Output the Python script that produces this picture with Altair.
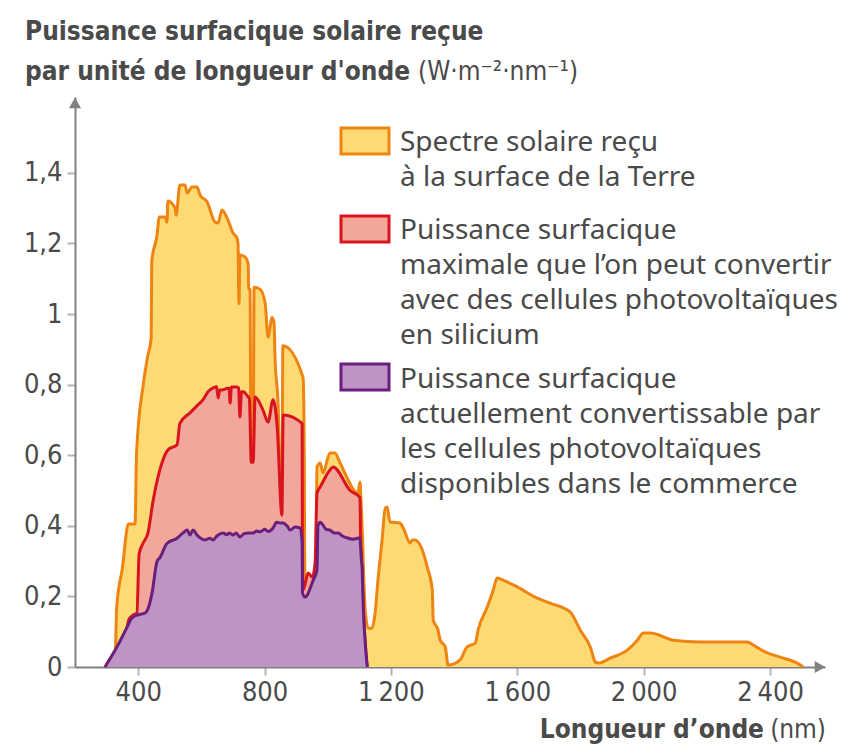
import altair as alt
import pandas as pd

# ---------------- data ----------------
yellow_nm = [320, 327, 332, 350, 369, 390, 395, 416, 430, 441, 443, 459, 467, 485, 491, 494, 517, 520,
             532, 548, 555, 570, 586, 596, 618, 643, 653, 665, 684, 700, 713, 716, 719, 722, 738, 748,
             750, 754, 757, 764, 767, 786, 802, 811, 824, 830, 833, 843, 850, 855, 858, 922, 925, 928,
             950, 963, 966, 976, 985, 1007, 1023, 1039, 1096, 1102, 1105, 1110, 1114, 1118, 1128, 1140,
             1150, 1159, 1172, 1182, 1188, 1197, 1229, 1239, 1261, 1267, 1277, 1299, 1315, 1331, 1334,
             1349, 1356, 1372, 1381, 1419, 1441, 1467, 1476, 1505, 1524, 1536, 1555, 1600, 1663, 1704,
             1767, 1799, 1831, 1847, 1856, 1894, 1948, 1980, 1999, 2021, 2094, 2179, 2284, 2328, 2347,
             2391, 2432, 2486, 2505]
yellow_p = [0.0, 0.02, 0.17, 0.28, 0.405, 0.405, 0.61, 0.80, 0.88, 0.93, 1.15, 1.22, 1.275, 1.275, 1.26,
            1.32, 1.30, 1.28, 1.366, 1.366, 1.343, 1.36, 1.36, 1.337, 1.318, 1.261, 1.258, 1.295, 1.267,
            1.23, 1.215, 1.20, 1.03, 1.167, 1.162, 1.142, 1.07, 1.07, 0.62, 0.62, 1.076, 1.07, 1.03,
            0.935, 0.99, 0.975, 0.88, 0.74, 0.50, 0.45, 0.91, 0.82, 0.68, 0.22, 0.24, 0.30, 0.567, 0.578,
            0.55, 0.606, 0.606, 0.578, 0.493, 0.524, 0.48, 0.37, 0.25, 0.17, 0.11, 0.11, 0.153, 0.246,
            0.36, 0.45, 0.453, 0.411, 0.408, 0.394, 0.351, 0.36, 0.36, 0.332, 0.283, 0.218, 0.133, 0.105,
            0.076, 0.057, 0.005, 0.02, 0.057, 0.068, 0.105, 0.17, 0.218, 0.252, 0.246, 0.227, 0.195,
            0.181, 0.156, 0.105, 0.057, 0.014, 0.011, 0.025, 0.048, 0.076, 0.096, 0.096, 0.076, 0.071,
            0.071, 0.071, 0.062, 0.040, 0.028, 0.011, 0.0]

red_nm = [295, 333, 365, 370, 384, 396, 403, 415, 431, 447, 469, 494, 523, 532, 564, 586, 605, 621,
          643, 648, 653, 658, 665, 684, 688, 691, 695, 713, 718, 722, 727, 732, 748, 752, 758, 764, 770,
          795, 811, 827, 840, 855, 859, 919, 920, 922, 938, 951, 960, 966, 976, 1007, 1017, 1071, 1102,
          1104, 1106, 1109, 1112, 1118, 1125]
red_p = [0.0, 0.057, 0.113, 0.133, 0.147, 0.153, 0.32, 0.35, 0.38, 0.47, 0.56, 0.615, 0.63, 0.69, 0.72,
         0.74, 0.757, 0.78, 0.793, 0.795, 0.762, 0.785, 0.785, 0.79, 0.79, 0.748, 0.793, 0.793, 0.79,
         0.708, 0.78, 0.78, 0.765, 0.76, 0.58, 0.58, 0.765, 0.728, 0.694, 0.757, 0.68, 0.43, 0.714, 0.69,
         0.247, 0.218, 0.266, 0.255, 0.295, 0.493, 0.51, 0.558, 0.567, 0.50, 0.48, 0.366, 0.31, 0.275,
         0.18, 0.077, 0.0]

purple_nm = [295, 333, 365, 380, 396, 422, 433, 444, 460, 469, 491, 523, 542, 555, 564, 574, 586, 612,
             627, 637, 650, 669, 680, 690, 700, 710, 722, 735, 750, 764, 775, 786, 800, 812, 827, 838,
             849, 859, 871, 881, 897, 912, 919, 920, 928, 954, 966, 969, 976, 985, 995, 1007, 1020, 1033,
             1045, 1061, 1080, 1102, 1104, 1106, 1109, 1112, 1118, 1125]
purple_p = [0.0, 0.057, 0.113, 0.139, 0.147, 0.153, 0.17, 0.21, 0.30, 0.31, 0.35, 0.365, 0.38, 0.388,
            0.374, 0.388, 0.374, 0.36, 0.365, 0.36, 0.372, 0.38, 0.375, 0.38, 0.374, 0.38, 0.368, 0.378,
            0.38, 0.38, 0.385, 0.383, 0.39, 0.384, 0.394, 0.41, 0.408, 0.408, 0.40, 0.388, 0.397, 0.394,
            0.35, 0.21, 0.198, 0.246, 0.275, 0.40, 0.41, 0.402, 0.39, 0.388, 0.38, 0.38, 0.372, 0.366,
            0.362, 0.366, 0.34, 0.31, 0.275, 0.18, 0.077, 0.0]

x_ticks = [400, 800, 1200, 1600, 2000, 2400]
y_ticks = [0, 0.2, 0.4, 0.6, 0.8, 1.0, 1.2, 1.4]

title_line1 = "Puissance surfacique solaire reçue"
title_line2 = "par unité de longueur d'onde"
title_unit = "(W·m⁻²·nm⁻¹)"
x_title = "Longueur d’onde"
x_unit = "(nm)"

legend_labels = [
    ["Spectre solaire reçu", "à la surface de la Terre"],
    ["Puissance surfacique", "maximale que l’on peut convertir",
     "avec des cellules photovoltaïques", "en silicium"],
    ["Puissance surfacique", "actuellement convertissable par",
     "les cellules photovoltaïques", "disponibles dans le commerce"],
]

# ---------------- style ----------------
FONT_C = "Liberation Sans Narrow, DejaVu Sans Condensed, sans-serif"
FONT_L = "Noto Sans, Open Sans, sans-serif"
TXT = "#4a4a4a"
AX = "#808080"
fills = ["#FDDA74", "#F3A69A", "#BE94C4"]
strokes = ["#EE8412", "#D9141E", "#6B1F7C"]

W, H = 750, 570
xscale = alt.Scale(domain=[200, 2574], nice=False, zero=False)
yscale = alt.Scale(domain=[0, 1.615], nice=False)

xaxis = alt.Axis(values=x_ticks, title=None, grid=False,
                 labelExpr="replace(format(datum.value, ','), ',', '\u2009')",
                 tickSize=8, tickColor="#b5b5b5", tickWidth=2,
                 domainColor=AX, domainWidth=2,
                 labelFont=FONT_C, labelFontSize=27, labelColor=TXT, labelPadding=4)
yaxis = alt.Axis(values=y_ticks, title=None, grid=False,
                 labelExpr="replace(format(datum.value, '.1~f'), '.', ',')",
                 tickSize=8, tickColor="#b5b5b5", tickWidth=2,
                 domainColor=AX, domainWidth=2,
                 labelFont=FONT_C, labelFontSize=27, labelColor=TXT, labelPadding=5)


def area(nm, vals, fill, stroke):
    df = pd.DataFrame({"nm": nm, "p": vals})
    return alt.Chart(df).mark_area(
        color=fill, opacity=1, interpolate="monotone",
        line=alt.OverlayMarkDef(color=stroke, strokeWidth=3, strokeJoin="round")
    ).encode(
        x=alt.X("nm:Q", scale=xscale, axis=xaxis),
        y=alt.Y("p:Q", scale=yscale, axis=yaxis),
    )


layers = [
    area(yellow_nm, yellow_p, fills[0], strokes[0]),
    area(red_nm, red_p, fills[1], strokes[1]),
    area(purple_nm, purple_p, fills[2], strokes[2]),
]

dummy = pd.DataFrame({"a": [0]})

# axis arrows
layers.append(alt.Chart(dummy).mark_point(shape="triangle-right", filled=True, color=AX,
                                          opacity=1, size=150)
              .encode(x=alt.value(W - 5), y=alt.value(H)))
layers.append(alt.Chart(dummy).mark_point(shape="triangle-up", filled=True, color=AX,
                                          opacity=1, size=150)
              .encode(x=alt.value(0), y=alt.value(6)))


def text(s, x, y, align="left", weight="normal", font=FONT_C, size=26, lh=35):
    return alt.Chart(dummy).mark_text(align=align, baseline="alphabetic", font=font,
                                      fontSize=size, fontWeight=weight, color=TXT,
                                      lineHeight=lh).encode(
        x=alt.value(x), y=alt.value(y), text=alt.value(s))


# titles
layers.append(text(title_line1, -50, -57, weight="bold"))
layers.append(text(title_line2, -50, -17, weight="bold"))
layers.append(text(title_unit, 343, -17))
layers.append(text(x_title, 689, 641, align="right", weight="bold"))
layers.append(text(x_unit, 751, 641, align="right"))

# legend
box_y = [31, 119, 267]
txt_y = [54, 142, 291]
for i in range(3):
    layers.append(alt.Chart(dummy).mark_rect(fill=fills[i], stroke=strokes[i], strokeWidth=3)
                  .encode(x=alt.value(266), x2=alt.value(314),
                          y=alt.value(box_y[i]), y2=alt.value(box_y[i] + 26)))
    layers.append(text(legend_labels[i], 325, txt_y[i], font=FONT_L, size=28, lh=35))

chart = alt.layer(*layers).properties(
    width=W, height=H,
    autosize=alt.AutoSizeParams(type="none"),
    padding={"left": 75, "top": 97, "right": 25, "bottom": 89},
).configure_view(stroke=None)

chart.save("out.html", embed_options={"renderer": "svg", "actions": False})
